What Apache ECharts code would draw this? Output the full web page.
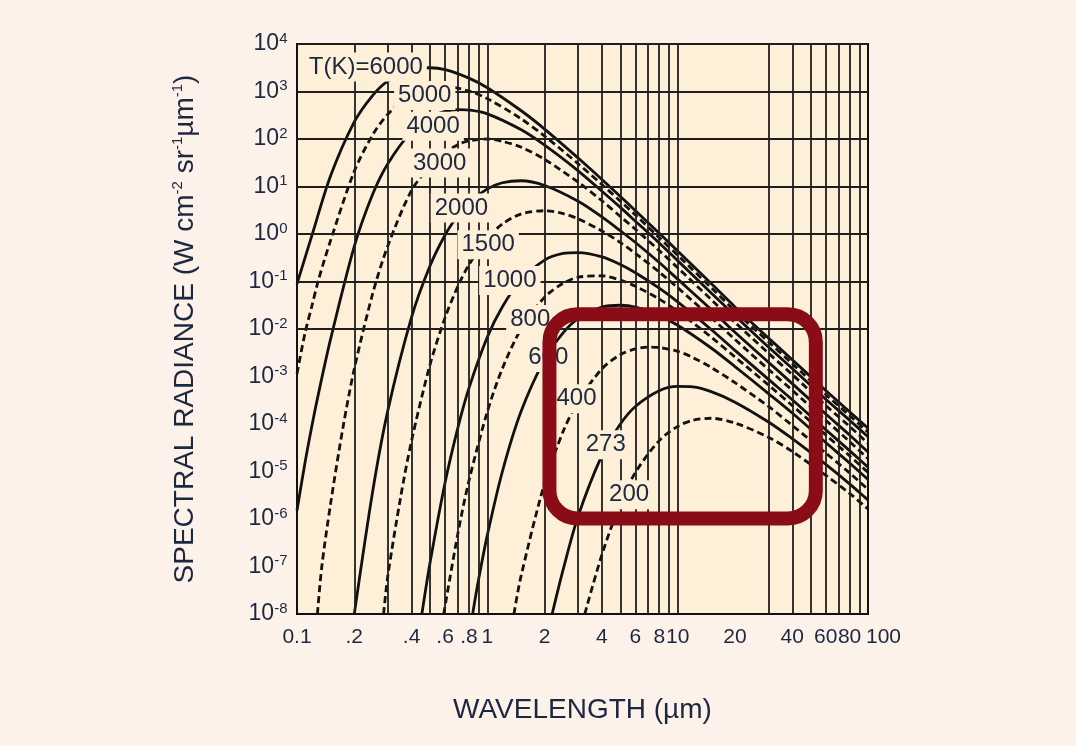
<!DOCTYPE html>
<html>
<head>
<meta charset="utf-8">
<title>Blackbody spectral radiance</title>
<script src="https://cdn.jsdelivr.net/npm/echarts@6/dist/echarts.min.js"></script>
<style>
  html, body { margin: 0; padding: 0; background: #fdf2ea; }
  #chart { width: 1076px; height: 746px; }
</style>
</head>
<body>
<div id="chart"></div>
<script>
// Wavelength axis: labelled positions and the extra (non-decade) grid lines
const wavelengthTicks = [0.1, 0.2, 0.4, 0.6, 0.8, 1, 2, 4, 6, 8, 10, 20, 40, 60, 80, 100];
const wavelengthTickText = ['0.1', '.2', '.4', '.6', '.8', '1', '2', '4', '6', '8', '10', '20', '40', '60', '80', '100'];
const wavelengthGrid = [0.2, 0.3, 0.4, 0.5, 0.6, 0.7, 0.8, 0.9, 1, 2, 3, 4, 5, 6, 7, 8, 9, 10, 30, 40, 50, 60, 70, 80, 90];
// Radiance axis: one grid line and label per decade
const radianceTicks = [1e-8, 1e-7, 1e-6, 1e-5, 1e-4, 1e-3, 1e-2, 1e-1, 1e0, 1e1, 1e2, 1e3, 1e4];

// Spectral radiance curves, [wavelength (µm), radiance (W cm^-2 sr^-1 µm^-1)]
const T6000 = [[0.1, 0.089], [0.12, 0.955], [0.15, 16.6], [0.2, 229], [0.25, 832], [0.3, 1660], [0.4, 2880], [0.5, 3160], [0.6, 2880], [0.8, 1910], [1, 1200], [1.5, 398], [2, 162], [3, 39.8], [4, 14.1], [5, 6.17], [6, 3.09], [8, 1.04], [10, 0.44], [15, 0.0904], [20, 0.0292], [30, 6.46e-3], [40, 2.26e-3], [60, 5.06e-4], [80, 1.81e-4], [100, 8.15e-5]];
const T5000 = [[0.1, 1.15e-3], [0.11, 7.94e-3], [0.12, 3.16e-2], [0.13, 0.112], [0.15, 0.724], [0.2, 20.9], [0.25, 123], [0.3, 331], [0.4, 871], [0.5, 1200], [0.6, 1290], [0.8, 1020], [1, 708], [1.5, 269], [2, 115], [3, 30.2], [4, 11.0], [5, 4.90], [6, 2.51], [8, 0.839], [10, 0.357], [15, 0.0741], [20, 0.0240], [30, 5.37e-3], [40, 1.86e-3], [60, 4.17e-4], [80, 1.51e-4], [100, 6.76e-5]];
const T4000 = [[0.1, 1.51e-6], [0.11, 1.48e-5], [0.12, 9.55e-5], [0.13, 4.57e-4], [0.15, 6.03e-3], [0.2, 0.55], [0.25, 6.92], [0.3, 30.2], [0.4, 145], [0.5, 288], [0.6, 380], [0.7, 417], [0.8, 407], [1, 339], [1.5, 158], [2, 74.1], [3, 21.4], [4, 7.94], [5, 3.63], [6, 1.86], [8, 0.646], [10, 0.275], [15, 0.0575], [20, 0.0191], [30, 4.17e-3], [40, 1.48e-3], [60, 3.31e-4], [80, 1.20e-4], [100, 5.37e-5]];
const T3000 = [[0.128, 1e-8], [0.135, 1e-7], [0.15, 2.04e-6], [0.175, 9.12e-5], [0.2, 1.45e-3], [0.25, 0.0562], [0.3, 0.562], [0.4, 8.32], [0.5, 26.3], [0.6, 51.3], [0.7, 75.9], [0.8, 91.2], [1, 100], [1.2, 89.1], [1.5, 67.6], [2, 37.2], [3, 12.3], [4, 5.01], [5, 2.34], [6, 1.26], [8, 0.447], [10, 0.195], [15, 0.0417], [20, 0.0138], [30, 3.09e-3], [40, 1.10e-3], [60, 2.45e-4], [80, 8.91e-5], [100, 3.89e-5]];
const T2000 = [[0.2, 1e-8], [0.25, 3.89e-6], [0.3, 1.91e-4], [0.4, 0.0178], [0.5, 0.214], [0.6, 0.955], [0.7, 2.45], [0.8, 4.57], [1, 8.91], [1.2, 12.0], [1.5, 13.2], [2, 10.5], [3, 4.90], [4, 2.29], [5, 1.17], [6, 0.661], [8, 0.251], [10, 0.112], [15, 0.0257], [20, 8.51e-3], [30, 2.00e-3], [40, 7.08e-4], [60, 1.62e-4], [80, 5.89e-5], [100, 2.57e-5]];
const T1500 = [[0.285, 1e-8], [0.3, 6.31e-8], [0.35, 2.82e-6], [0.4, 4.47e-5], [0.5, 1.78e-3], [0.6, 0.0174], [0.7, 0.0794], [0.8, 0.224], [1, 0.813], [1.2, 1.62], [1.5, 2.63], [2, 3.09], [2.5, 2.69], [3, 2.09], [4, 1.16], [5, 0.661], [6, 0.389], [8, 0.158], [10, 0.0741], [15, 0.0174], [20, 6.03e-3], [30, 1.41e-3], [40, 5.13e-4], [60, 1.20e-4], [80, 4.27e-5], [100, 1.86e-5]];
const T1000 = [[0.453, 1e-8], [0.5, 1.20e-7], [0.6, 5.89e-6], [0.7, 8.32e-5], [0.8, 5.62e-4], [1, 6.76e-3], [1.2, 0.0295], [1.5, 0.107], [2, 0.282], [2.5, 0.389], [3, 0.407], [4, 0.331], [5, 0.229], [6, 0.153], [8, 0.0724], [10, 0.0372], [15, 9.77e-3], [20, 3.55e-3], [30, 8.71e-4], [40, 3.24e-4], [60, 7.59e-5], [80, 2.75e-5], [100, 1.23e-5]];
const T800 = [[0.59, 1e-8], [0.7, 4.90e-7], [0.8, 6.31e-6], [1, 1.82e-4], [1.2, 1.48e-3], [1.5, 9.77e-3], [2, 0.0468], [2.5, 0.0912], [3, 0.123], [4, 0.132], [5, 0.107], [6, 0.0794], [8, 0.0427], [10, 0.0234], [15, 6.76e-3], [20, 2.57e-3], [30, 6.61e-4], [40, 2.45e-4], [60, 5.89e-5], [80, 2.14e-5], [100, 9.55e-6]];
const T600 = [[0.837, 1e-8], [0.9, 5.37e-8], [1, 4.57e-7], [1.2, 1.0e-5], [1.5, 1.78e-4], [2, 2.29e-3], [2.5, 8.32e-3], [3, 0.0166], [4, 0.0288], [5, 0.0316], [6, 0.0288], [8, 0.0191], [10, 0.0120], [15, 3.98e-3], [20, 1.62e-3], [30, 4.37e-4], [40, 1.70e-4], [60, 4.07e-5], [80, 1.51e-5], [100, 6.76e-6]];
const T400 = [[1.38, 1e-8], [1.5, 6.03e-8], [2, 5.75e-6], [2.5, 6.92e-5], [3, 3.02e-4], [4, 1.45e-3], [5, 2.88e-3], [6, 3.80e-3], [7, 4.17e-3], [8, 4.07e-3], [10, 3.39e-3], [12, 2.51e-3], [15, 1.55e-3], [20, 7.41e-4], [30, 2.34e-4], [40, 9.33e-5], [60, 2.45e-5], [80, 9.33e-6], [100, 4.17e-6]];
const T273 = [[2.19, 1e-8], [2.5, 8.51e-8], [3, 1.15e-6], [4, 2.19e-5], [5, 1.0e-4], [6, 2.34e-4], [8, 5.01e-4], [10, 6.17e-4], [12, 6.03e-4], [15, 4.79e-4], [20, 2.88e-4], [30, 1.10e-4], [40, 4.90e-5], [60, 1.41e-5], [80, 5.50e-6], [100, 2.51e-6]];
const T200 = [[3.25, 1e-8], [4, 1.78e-7], [5, 2.14e-6], [6, 9.55e-6], [8, 4.47e-5], [10, 8.91e-5], [12, 1.20e-4], [15, 1.32e-4], [20, 1.05e-4], [30, 5.25e-5], [40, 2.63e-5], [60, 8.32e-6], [80, 3.47e-6], [100, 1.62e-6]];

const curves = [T6000, T5000, T4000, T3000, T2000, T1500, T1000, T800, T600, T400, T273, T200];
const curveLabels = ['T(K)=6000', '5000', '4000', '3000', '2000', '1500', '1000', '800', '600', '400', '273', '200'];
// label anchor on each curve, [wavelength, radiance]
const labelAnchors = [[0.230, 3280], [0.469, 824], [0.519, 185], [0.562, 31.3], [0.731, 3.52], [1.01, 0.596], [1.313, 0.105], [1.68, 0.0158], [2.09, 2.51e-3], [2.94, 3.39e-4], [4.19, 3.66e-5], [5.56, 3.24e-6]];

// highlighted region of the plot: wavelength span and radiance span
const highlightWavelength = [2.12, 53.2];
const highlightRadiance = [2.05e-2, 1.03e-6];

const INK = '#111111';
const TEXT = '#1c2740';
const PLOT_BG = '#fef0d8';
const GRID_LINE = '#1f1f1f';
const FONT = '"Liberation Sans", Arial, Helvetica, sans-serif';
const HIDDEN_MARK = { color: 'rgba(0,0,0,0)', opacity: 1 };

const chart = echarts.init(document.getElementById('chart'), null, { renderer: 'canvas' });

const series = [];

// grid lines plus the wavelength tick labels under the plot
series.push({
  type: 'scatter',
  name: 'wavelength ticks',
  z: 1,
  clip: false,
  silent: true,
  symbolSize: 1,
  itemStyle: HIDDEN_MARK,
  data: wavelengthTicks.map((v, i) => {
    const item = { value: [v, 1e-8], name: wavelengthTickText[i] };
    if (wavelengthTickText[i] === '100') item.label = { align: 'left', offset: [-2, 0] };
    return item;
  }),
  label: {
    show: true,
    position: 'bottom',
    distance: 12,
    formatter: p => p.name,
    color: TEXT,
    fontSize: 21,
    fontFamily: FONT
  },
  markLine: {
    silent: true,
    symbol: ['none', 'none'],
    label: { show: false },
    animation: false,
    lineStyle: { type: 'solid', color: GRID_LINE, width: 1.8 },
    data: wavelengthGrid.map(v => ({ xAxis: v })).concat(radianceTicks.map(v => ({ yAxis: v })))
  }
});

// radiance tick labels, 10 with the decade exponent raised
series.push({
  type: 'scatter',
  name: 'radiance ticks',
  z: 1,
  clip: false,
  silent: true,
  symbolSize: 1,
  itemStyle: HIDDEN_MARK,
  data: radianceTicks.map(v => ({ value: [0.1, v], name: String(Math.round(Math.log10(v))) })),
  label: {
    show: true,
    position: 'left',
    distance: 9,
    formatter: p => '{b|10}{s|' + p.name + '}',
    rich: {
      b: { fontSize: 23, color: TEXT, fontFamily: FONT, lineHeight: 26 },
      s: { fontSize: 15, color: TEXT, fontFamily: FONT, verticalAlign: 'top', lineHeight: 16 }
    }
  }
});

curves.forEach((data, i) => {
  series.push({
    type: 'line',
    name: curveLabels[i],
    data: data,
    showSymbol: false,
    smooth: 0.3,
    clip: true,
    silent: true,
    z: 3,
    lineStyle: { color: INK, width: 2.8, type: i % 2 === 1 ? [7, 4] : 'solid' }
  });
});

// temperature labels sit on their curves with a plot-coloured box behind them
series.push({
  type: 'scatter',
  name: 'temperature labels',
  z: 6,
  silent: true,
  clip: false,
  symbolSize: 1,
  itemStyle: HIDDEN_MARK,
  data: labelAnchors.map((a, i) => ({ value: a, name: curveLabels[i] })),
  label: {
    show: true,
    position: 'inside',
    formatter: p => p.name,
    color: TEXT,
    fontSize: 24,
    fontFamily: FONT,
    backgroundColor: PLOT_BG,
    padding: [3, 4, 2, 4]
  }
});

chart.setOption({
  animation: false,
  backgroundColor: '#fdf2ea',
  grid: {
    left: 297, top: 44, right: 208, bottom: 132,
    show: true,
    backgroundColor: PLOT_BG,
    borderColor: INK,
    borderWidth: 2
  },
  xAxis: {
    type: 'log',
    logBase: 10,
    min: 0.1,
    max: 100,
    name: 'WAVELENGTH (µm)',
    nameLocation: 'middle',
    nameGap: 82,
    nameTextStyle: { color: TEXT, fontSize: 28, fontFamily: FONT },
    axisLine: { show: false },
    axisTick: { show: false },
    axisLabel: { show: false },
    splitLine: { show: false }
  },
  yAxis: {
    type: 'log',
    logBase: 10,
    min: 1e-8,
    max: 1e4,
    name: 'SPECTRAL RADIANCE (W cm{s|-2} sr{s|-1}µm{s|-1})',
    nameLocation: 'middle',
    nameGap: 97,
    nameRotate: 90,
    nameTextStyle: {
      color: TEXT, fontSize: 28, fontFamily: FONT,
      rich: { s: { fontSize: 15, color: TEXT, fontFamily: FONT, verticalAlign: 'top', lineHeight: 30 } }
    },
    axisLine: { show: false },
    axisTick: { show: false },
    axisLabel: { show: false },
    splitLine: { show: false }
  },
  series: series
});

// rounded highlight frame, placed from data coordinates
const p0 = chart.convertToPixel({ gridIndex: 0 }, [highlightWavelength[0], highlightRadiance[0]]);
const p1 = chart.convertToPixel({ gridIndex: 0 }, [highlightWavelength[1], highlightRadiance[1]]);
chart.setOption({
  graphic: [{
    type: 'rect',
    z: 100,
    silent: true,
    shape: { x: p0[0], y: p0[1], width: p1[0] - p0[0], height: p1[1] - p0[1], r: 28 },
    style: { fill: 'none', stroke: '#8a0c16', lineWidth: 14 }
  }]
});
</script>
</body>
</html>
